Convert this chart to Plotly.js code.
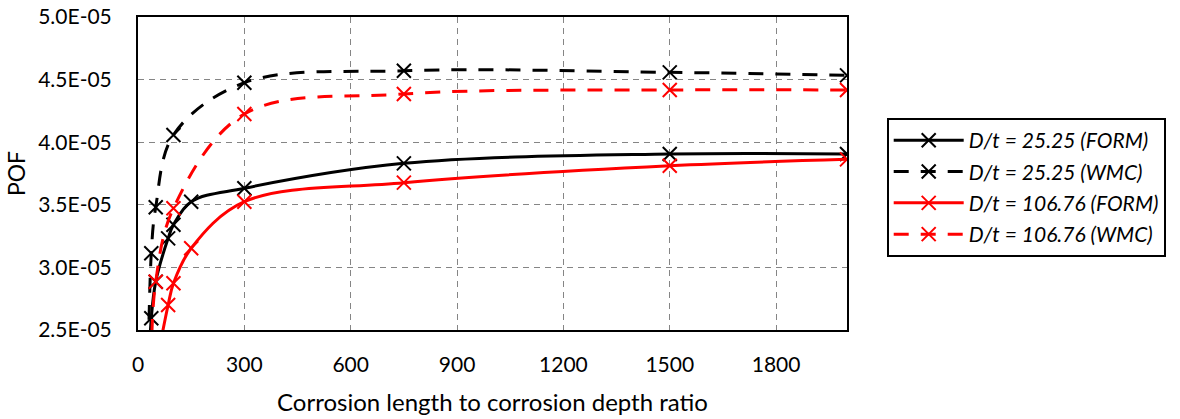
<!DOCTYPE html>
<html>
<head>
<meta charset="utf-8">
<script src="https://cdn.plot.ly/plotly-3.0.1.min.js"></script>
<style>
  html, body { margin: 0; padding: 0; background: #fff; }
  #chart { width: 1180px; height: 419px; }
</style>
</head>
<body>
<div id="chart"></div>
<script>
// ---- data ----
const seriesNames = [
  'D/t = 25.25 (FORM)',
  'D/t = 25.25 (WMC)',
  'D/t = 106.76 (FORM)',
  'D/t = 106.76 (WMC)'
];

const xForm25 = [25, 37.5, 50, 85, 100, 150, 300, 750, 1500, 2000];
const yForm25 = [1.8e-5, 2.594e-5, 2.886e-5, 3.232e-5, 3.34e-5, 3.525e-5, 3.632e-5, 3.831e-5, 3.906e-5, 3.906e-5];

const xWmc25 = [25, 37.5, 50, 100, 300, 750, 1500, 2000];
const yWmc25 = [1.5e-5, 3.113e-5, 3.48e-5, 4.058e-5, 4.475e-5, 4.571e-5, 4.558e-5, 4.534e-5];

const xForm106 = [50, 85, 100, 150, 300, 750, 1500, 2000];
const yForm106 = [2.2e-5, 2.70e-5, 2.873e-5, 3.153e-5, 3.525e-5, 3.677e-5, 3.812e-5, 3.863e-5];

const xWmc106 = [37.5, 50, 100, 300, 750, 1500, 2000];
const yWmc106 = [2.25e-5, 2.886e-5, 3.472e-5, 4.225e-5, 4.385e-5, 4.417e-5, 4.417e-5];

const xTickVals = [0, 300, 600, 900, 1200, 1500, 1800];
const xTickText = ['0', '300', '600', '900', '1200', '1500', '1800'];
const yTickVals = [2.5e-5, 3.0e-5, 3.5e-5, 4.0e-5, 4.5e-5, 5.0e-5];
const yTickText = ['2.5E-05', '3.0E-05', '3.5E-05', '4.0E-05', '4.5E-05', '5.0E-05'];

const xTitle = 'Corrosion length to corrosion depth ratio';
const yTitle = 'POF';

// ---- traces ----
function mk(x, y, name, color, dash, group) {
  return {
    x: x, y: y, name: name, type: 'scatter', mode: 'lines+markers',
    legendgroup: group,
    line: { color: color, width: 3, dash: dash, shape: 'spline', smoothing: 1 },
    marker: { symbol: 'x-thin-open', size: 14, color: color, line: { color: color, width: 2 } },
    cliponaxis: true
  };
}
const dashPat = '15px,12px';
const traces = [
  mk(xForm25, yForm25, seriesNames[0], '#000000', 'solid', 'g1'),
  mk(xWmc25, yWmc25, seriesNames[1], '#000000', dashPat, 'g2'),
  mk(xForm106, yForm106, seriesNames[2], '#ff0000', 'solid', 'g3'),
  mk(xWmc106, yWmc106, seriesNames[3], '#ff0000', dashPat, 'g4')
];

const fontFam = 'Lato, "Open Sans", sans-serif';
const layout = {
  width: 1180, height: 419,
  margin: { l: 138, r: 333, t: 17, b: 89, pad: 0 },
  paper_bgcolor: '#ffffff', plot_bgcolor: '#ffffff',
  font: { family: fontFam, color: '#000000', size: 21 },
  showlegend: true,
  legend: {
    x: 1.056, y: 0.677, xanchor: 'left', yanchor: 'top',
    bordercolor: '#000000', borderwidth: 2, bgcolor: '#ffffff',
    font: { family: fontFam, size: 21, style: 'italic', color: '#000000' },
    itemwidth: 70, tracegroupgap: 1, traceorder: 'grouped'
  },
  xaxis: {
    range: [0, 2000],
    tickmode: 'array', tickvals: xTickVals, ticktext: xTickText,
    showgrid: true, gridcolor: '#858585', gridwidth: 1, griddash: '6px,5px',
    zeroline: false,
    showline: true, linecolor: '#000000', linewidth: 2, mirror: true,
    ticks: 'outside', ticklen: 15, tickcolor: 'rgba(0,0,0,0)',
    tickfont: { family: fontFam, size: 21, color: '#000000' },
    title: { text: xTitle, font: { family: fontFam, size: 24, color: '#000000' }, standoff: 19 }
  },
  yaxis: {
    range: [2.5e-5, 5.0e-5],
    tickmode: 'array', tickvals: yTickVals, ticktext: yTickText,
    showgrid: true, gridcolor: '#858585', gridwidth: 1, griddash: '6px,5px',
    zeroline: false,
    showline: true, linecolor: '#000000', linewidth: 2, mirror: true,
    ticks: 'outside', ticklen: 20, tickcolor: 'rgba(0,0,0,0)',
    tickfont: { family: fontFam, size: 21, color: '#000000' },
    title: { text: yTitle, font: { family: fontFam, size: 23, color: '#000000' }, standoff: 6 }
  }
};

Plotly.newPlot('chart', traces, layout, { staticPlot: true, displayModeBar: false });
</script>
</body>
</html>
